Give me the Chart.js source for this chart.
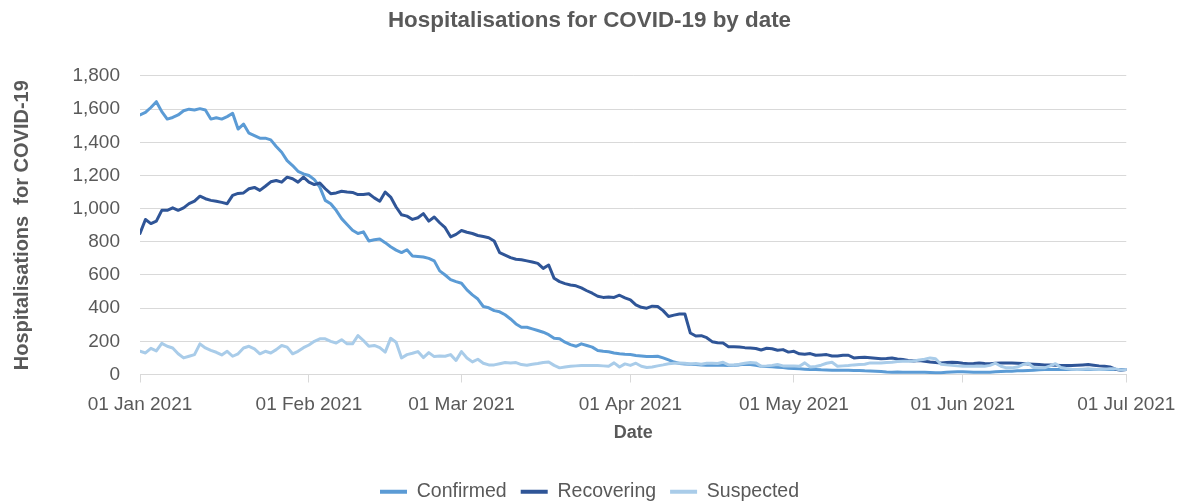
<!DOCTYPE html>
<html><head><meta charset="utf-8">
<script src="https://cdn.jsdelivr.net/npm/chart.js@4.4.0/dist/chart.umd.min.js"></script>
<style>html,body{margin:0;padding:0;background:#fff;}#wrap{width:1186px;height:504px;}</style>
</head><body><div id="wrap"><canvas id="c" width="1186" height="504"></canvas></div>
<script>
// Day index 0 = 01 Jan 2021 ... 181 = 01 Jul 2021
const tickDays = [0, 31, 59, 90, 120, 151, 181];
const tickLabels = ['01 Jan 2021', '01 Feb 2021', '01 Mar 2021', '01 Apr 2021', '01 May 2021', '01 Jun 2021', '01 Jul 2021'];
const seriesNames = ['Confirmed', 'Recovering', 'Suspected'];

const confirmed = [
  1565,1580,1610,1645,1585,1540,1550,1565,1590,1600,
  1595,1603,1595,1540,1548,1540,1555,1575,1480,1510,
  1455,1440,1425,1425,1415,1375,1340,1290,1260,1225,
  1210,1200,1175,1130,1050,1030,990,940,905,870,
  850,860,805,812,817,795,770,750,735,752,
  715,712,708,700,685,625,600,572,560,550,
  510,480,455,410,402,385,378,360,335,305,
  285,285,275,265,255,240,218,216,195,180,
  170,185,175,165,145,140,137,130,125,122,
  120,115,112,108,108,110,100,88,75,66,
  64,62,60,58,56,56,58,56,55,56,
  58,62,60,55,50,48,46,44,42,38,
  36,34,32,30,30,28,27,26,26,26,
  25,24,24,22,21,20,18,15,14,15,
  14,14,14,14,14,12,10,11,13,15,
  16,16,15,14,14,14,14,16,18,20,
  20,22,22,24,26,28,30,30,30,30,
  30,30,30,30,30,30,30,30,30,30,30,30
];
const recovering = [
  850,935,910,925,990,990,1005,990,1005,1030,
  1045,1075,1060,1050,1045,1038,1030,1080,1092,1095,
  1120,1128,1110,1135,1162,1170,1160,1190,1180,1160,
  1190,1160,1145,1155,1120,1090,1095,1105,1100,1098,
  1085,1085,1090,1065,1045,1100,1070,1010,963,955,
  935,945,970,925,950,915,885,830,845,868,
  858,850,838,832,825,805,735,720,705,695,
  692,685,678,670,640,660,580,560,548,540,
  535,522,505,490,472,465,468,465,478,462,
  450,420,405,400,412,410,385,350,358,365,
  365,250,232,234,222,198,192,190,168,167,
  166,162,160,157,148,158,155,146,150,135,
  140,125,122,126,116,118,120,112,112,116,
  116,100,103,104,101,98,95,96,100,94,
  90,85,82,85,80,75,72,70,72,74,
  72,68,65,66,70,66,65,68,70,70,
  70,68,66,64,62,60,58,57,56,55,
  55,54,56,58,60,56,52,50,46,32,26,30
];
const suspected = [
  140,130,158,142,188,170,160,125,100,110,
  120,185,160,145,134,118,140,110,125,160,
  170,155,125,140,130,150,175,165,125,140,
  162,178,200,215,215,200,190,210,185,185,
  235,205,170,175,162,135,218,195,100,120,
  128,138,102,132,108,112,110,120,85,138,
  100,76,92,68,58,58,65,72,70,72,
  60,56,62,66,72,76,55,40,45,50,
  52,54,54,54,54,52,50,70,45,64,
  55,68,50,42,45,52,58,65,68,70,
  68,64,66,62,68,68,66,74,58,58,
  62,68,72,70,50,52,55,60,52,52,
  52,50,70,45,48,56,68,74,50,52,
  54,58,60,62,70,70,70,72,74,78,
  80,80,82,88,92,100,95,62,58,55,
  52,50,50,50,50,50,55,68,50,40,
  40,45,60,68,42,40,40,52,65,42,
  36,32,30,32,34,32,30,32,34,34,27,30
];

const FONT = "'Liberation Sans', Arial, sans-serif";
const TXT = '#595959';
const GRID = '#d9d9d9';
const colors = ['#5B9BD5', '#2F5597', '#A9CCE9'];
const toPts = arr => arr.map((v, i) => ({x: i, y: v}));
const fmt = v => String(v).replace(/\B(?=(\d{3})+(?!\d))/g, ',');

// Centre title and legend on the full canvas rather than on the padded box
const shiftBlocks = {
  id: 'shiftBlocks',
  afterLayout(chart) {
    const dx = 24;
    [chart.titleBlock, chart.legend].forEach(b => {
      if (b) { b.left += dx; b.right += dx; }
    });
  }
};

new Chart(document.getElementById('c'), {
  type: 'line',
  data: {
    datasets: [confirmed, recovering, suspected].map((arr, i) => ({
      label: seriesNames[i],
      data: toPts(arr),
      borderColor: colors[i],
      backgroundColor: colors[i],
      order: 3 - i
    }))
  },
  plugins: [shiftBlocks],
  options: {
    responsive: false,
    animation: false,
    devicePixelRatio: 1,
    elements: {
      point: {radius: 0, hoverRadius: 0},
      line: {borderWidth: 3, tension: 0, borderJoinStyle: 'round', borderCapStyle: 'round'}
    },
    layout: {padding: {top: 0, left: 0, right: 55, bottom: -7.5}},
    plugins: {
      title: {
        display: true,
        text: 'Hospitalisations for COVID-19 by date',
        color: TXT,
        font: {family: FONT, size: 22.4, weight: 'bold'},
        padding: {top: 7, bottom: 42.1}
      },
      legend: {
        position: 'bottom',
        labels: {
          color: TXT,
          font: {family: FONT, size: 19.5},
          boxWidth: 27,
          boxHeight: 4,
          padding: 14,
          sort: (a, b) => a.datasetIndex - b.datasetIndex,
          generateLabels: chart => Chart.defaults.plugins.legend.labels.generateLabels(chart).map(l => Object.assign({}, l, {
            fillStyle: chart.data.datasets[l.datasetIndex].borderColor,
            strokeStyle: 'rgba(0,0,0,0)',
            lineWidth: 0
          }))
        }
      },
      tooltip: {enabled: false}
    },
    scales: {
      x: {
        type: 'linear',
        min: 0,
        max: 181,
        afterBuildTicks: s => { s.ticks = tickDays.map(v => ({value: v})); },
        ticks: {
          autoSkip: false,
          maxRotation: 0,
          color: TXT,
          font: {family: FONT, size: 19},
          padding: 10.6,
          callback: v => tickLabels[tickDays.indexOf(v)]
        },
        grid: {drawOnChartArea: false, drawTicks: true, tickLength: 8, color: GRID},
        border: {display: true, color: GRID},
        title: {
          display: true, text: 'Date', color: TXT,
          font: {family: FONT, size: 18, weight: 'bold'},
          padding: {top: 4, bottom: 24.2}
        },
        afterFit: s => { s.height = 93.5; }
      },
      y: {
        min: 0,
        max: 1800,
        ticks: {
          stepSize: 200,
          color: TXT,
          font: {family: FONT, size: 19},
          padding: 20,
          callback: v => fmt(v)
        },
        grid: {color: GRID, drawTicks: false},
        border: {display: false},
        title: {
          display: true, text: 'Hospitalisations  for COVID-19', color: TXT,
          font: {family: FONT, size: 20, weight: 'bold'},
          padding: {top: 10, bottom: 0}
        },
        afterFit: s => { s.width = 140; }
      }
    }
  }
});
</script>
</body></html>
